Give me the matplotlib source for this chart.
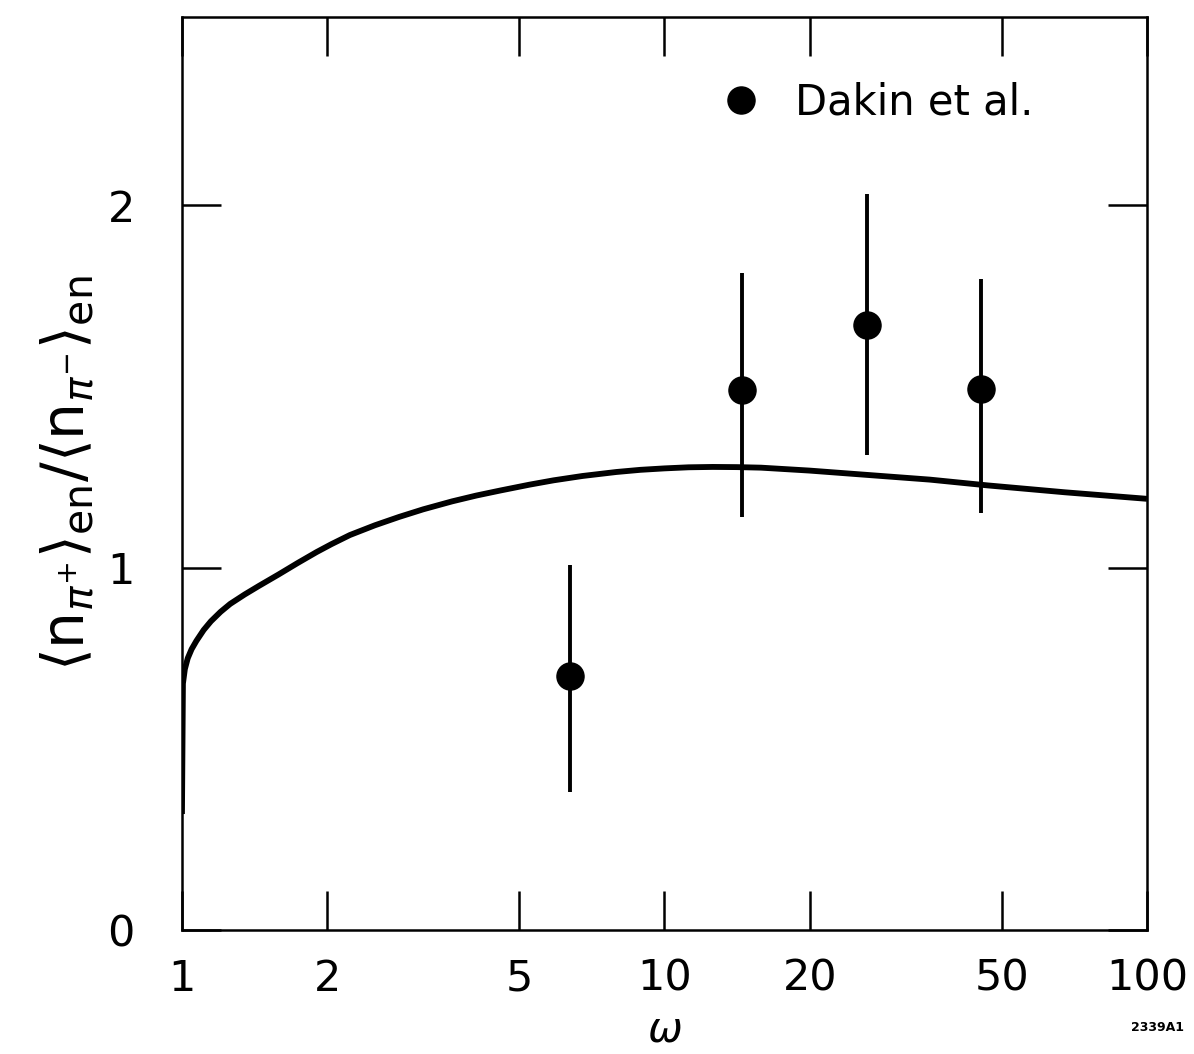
import matplotlib
matplotlib.use("Agg")
import matplotlib.pyplot as plt
from matplotlib.lines import Line2D
from matplotlib.ticker import FixedLocator, FixedFormatter, NullLocator

plt.rcParams['font.family'] = ['DejaVu Sans']
plt.rcParams['mathtext.fontset'] = 'dejavusans'

# Theory curve
curve_w = [1.0, 1.0046, 1.0139, 1.0280, 1.0471, 1.0715, 1.1092, 1.1482, 1.2023,
           1.2589, 1.3490, 1.4454, 1.5849, 1.7378, 1.9011, 2.0417, 2.2284, 2.5119,
           2.8184, 3.1623, 3.6308, 4.0738, 4.5709, 5.2481, 5.8884, 6.7608, 7.9433,
           8.9125, 10.0, 11.22, 12.59, 14.13, 15.85, 17.78, 19.95, 25.70, 35.48,
           46.77, 67.61, 100.0]
curve_r = [0.32, 0.68, 0.72, 0.75, 0.775, 0.798, 0.828, 0.852, 0.878,
           0.900, 0.926, 0.950, 0.981, 1.013, 1.043, 1.065, 1.09, 1.117,
           1.14, 1.161, 1.183, 1.199, 1.213, 1.229, 1.241, 1.253, 1.264,
           1.270, 1.274, 1.277, 1.278, 1.2775, 1.276, 1.272, 1.268, 1.257, 1.243,
           1.227, 1.208, 1.19]

# Dakin et al. data
data_w = [6.37, 14.45, 26.3, 45.4]
data_r = [0.70, 1.49, 1.67, 1.494]
data_hi = [1.007, 1.814, 2.03, 1.796]
data_lo = [0.38, 1.14, 1.31, 1.15]

xticks = [1, 2, 5, 10, 20, 50, 100]
xtick_labels = ["1", "2", "5", "10", "20", "50", "100"]
yticks = [0, 1, 2]
ytick_labels = ["0", "1", "2"]

fig = plt.figure(figsize=(11.94, 10.54), dpi=100)
ax = fig.add_axes([0.1524, 0.1177, 0.8082, 0.8662])

ax.plot(curve_w, curve_r, color='black', lw=4.2, solid_capstyle='butt',
        solid_joinstyle='round', zorder=3)

err_lo = [r - l for r, l in zip(data_r, data_lo)]
err_hi = [h - r for r, h in zip(data_r, data_hi)]
ax.errorbar(data_w, data_r, yerr=[err_lo, err_hi], fmt='o', color='black',
            ms=19.5, elinewidth=2.8, capsize=0, zorder=4)

ax.set_xscale('log')
ax.set_xlim(1, 100)
ax.set_ylim(0, 2.52)

ax.xaxis.set_major_locator(FixedLocator(xticks))
ax.xaxis.set_major_formatter(FixedFormatter(xtick_labels))
ax.xaxis.set_minor_locator(NullLocator())
ax.yaxis.set_major_locator(FixedLocator(yticks))
ax.yaxis.set_major_formatter(FixedFormatter(ytick_labels))

ax.tick_params(axis='both', which='major', direction='in', length=28, width=1.8,
               top=True, right=True, labelsize=31, color='black')
ax.tick_params(axis='x', pad=20)
ax.tick_params(axis='y', pad=34)
for s in ax.spines.values():
    s.set_linewidth(1.8)

ax.set_xlabel(r'$\omega$', fontsize=30, labelpad=6)
ax.set_ylabel(r'$\left\langle \mathrm{n}_{\pi^{+}}\right\rangle_{\rm en}\left/\left\langle \mathrm{n}_{\pi^{-}}\right\rangle_{\rm en}\right.$',
              fontsize=42, labelpad=8)

handle = Line2D([], [], marker='o', color='black', ls='none', ms=19.5)
ax.legend([handle], ['Dakin et al.'], loc='upper right', bbox_to_anchor=(0.921, 0.97),
          frameon=False, fontsize=30, handlelength=0.8, handletextpad=0.9)

fig.text(0.992, 0.025, '2339A1', fontsize=9, fontweight='bold', ha='right', va='center')

fig.savefig('out.png', dpi=100)
